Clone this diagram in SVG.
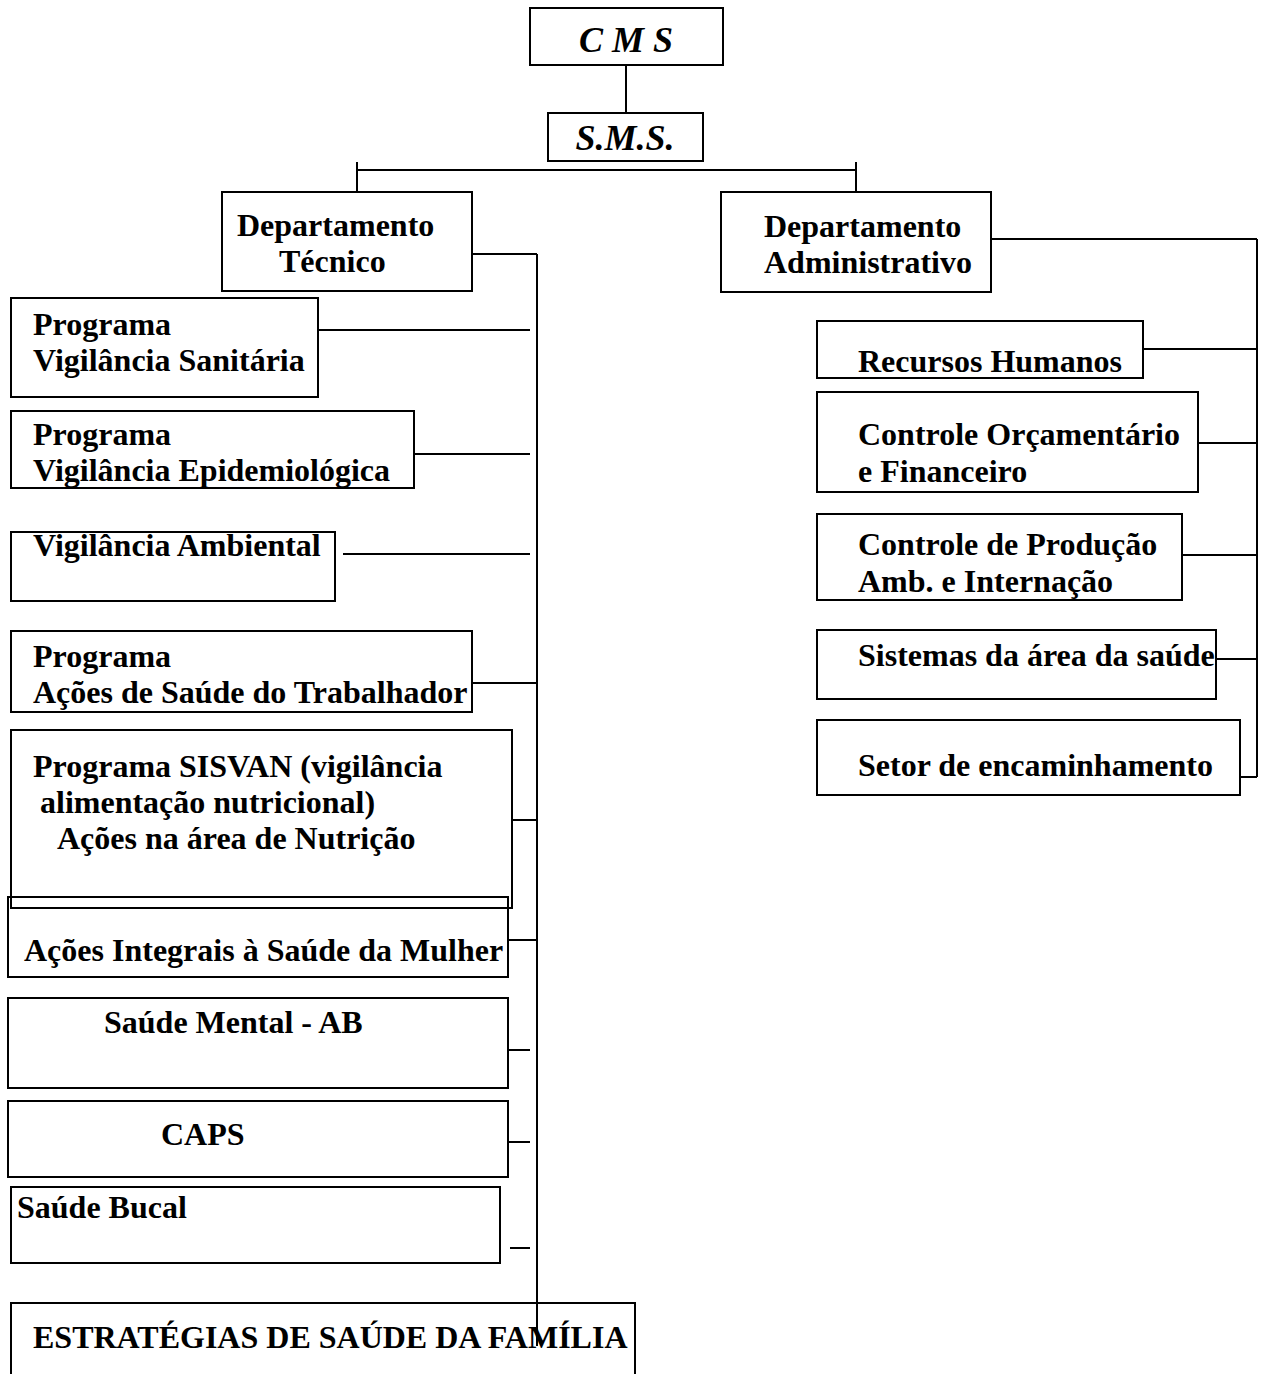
<svg xmlns="http://www.w3.org/2000/svg" width="1267" height="1374" viewBox="0 0 1267 1374">
<style>
rect{fill:none;stroke:#000;stroke-width:2}
text{font-family:"Liberation Serif","Times New Roman",serif;font-weight:bold;font-size:32px;fill:#000}
.it{font-style:italic;font-size:36px}
#connectors line{stroke:#000;stroke-width:2}
</style>
<rect x="0" y="0" width="1267" height="1374" style="stroke:none;fill:#fff"/>
<g id="connectors">
<line x1="626" y1="65" x2="626" y2="113"/>
<line x1="357" y1="170" x2="856" y2="170"/>
<line x1="357" y1="162" x2="357" y2="192"/>
<line x1="856" y1="162" x2="856" y2="192"/>
<line x1="537" y1="254" x2="537" y2="1346"/>
<line x1="472" y1="254" x2="537" y2="254"/>
<line x1="318" y1="330" x2="530" y2="330"/>
<line x1="414" y1="454" x2="530" y2="454"/>
<line x1="343" y1="554" x2="530" y2="554"/>
<line x1="472" y1="683" x2="537" y2="683"/>
<line x1="512" y1="820" x2="537" y2="820"/>
<line x1="508" y1="940" x2="537" y2="940"/>
<line x1="508" y1="1050" x2="530" y2="1050"/>
<line x1="508" y1="1142" x2="530" y2="1142"/>
<line x1="510" y1="1248" x2="530" y2="1248"/>
<line x1="991" y1="239" x2="1257" y2="239"/>
<line x1="1257" y1="239" x2="1257" y2="777"/>
<line x1="1143" y1="349" x2="1257" y2="349"/>
<line x1="1199" y1="443" x2="1257" y2="443"/>
<line x1="1182" y1="555" x2="1257" y2="555"/>
<line x1="1216" y1="659" x2="1257" y2="659"/>
<line x1="1240" y1="777" x2="1257" y2="777"/>
</g>
<g id="cms"><rect x="530" y="8" width="193" height="57"/><text class="it" x="626" y="52" text-anchor="middle">C M S</text></g>
<g id="sms"><rect x="548" y="113" width="155" height="48"/><text class="it" x="625" y="150" text-anchor="middle">S.M.S.</text></g>
<g id="dep-tecnico"><rect x="222" y="192" width="250" height="99"/><text x="237" y="236">Departamento</text><text x="279" y="272">Técnico</text></g>
<g id="dep-adm"><rect x="721" y="192" width="270" height="100"/><text x="764" y="237">Departamento</text><text x="764" y="273">Administrativo</text></g>
<g id="visa"><rect x="11" y="298" width="307" height="99"/><text x="33" y="335">Programa</text><text x="33" y="371">Vigilância Sanitária</text></g>
<g id="vepi"><rect x="11" y="411" width="403" height="77"/><text x="33" y="445">Programa</text><text x="33" y="481">Vigilância Epidemiológica</text></g>
<g id="vamb"><rect x="11" y="532" width="324" height="69"/><text x="33" y="556">Vigilância Ambiental</text></g>
<g id="trab"><rect x="11" y="631" width="461" height="81"/><text x="33" y="667">Programa</text><text x="33" y="703">Ações de Saúde do Trabalhador</text></g>
<g id="sisvan"><rect x="11" y="730" width="501" height="178"/><text x="33" y="777">Programa SISVAN (vigilância</text><text x="40" y="813">alimentação nutricional)</text><text x="57" y="849">Ações na área de Nutrição</text></g>
<g id="mulher"><rect x="8" y="897" width="500" height="80"/><text x="24" y="961">Ações Integrais à Saúde da Mulher</text></g>
<g id="mental"><rect x="8" y="998" width="500" height="90"/><text x="104" y="1033">Saúde Mental - AB</text></g>
<g id="caps"><rect x="8" y="1101" width="500" height="76"/><text x="161" y="1145">CAPS</text></g>
<g id="bucal"><rect x="11" y="1187" width="489" height="76"/><text x="17" y="1218">Saúde Bucal</text></g>
<g id="esf"><rect x="11" y="1303" width="624" height="80"/><text x="33" y="1348">ESTRATÉGIAS DE SAÚDE DA FAMÍLIA</text></g>
<g id="rh"><rect x="817" y="321" width="326" height="57"/><text x="858" y="372">Recursos Humanos</text></g>
<g id="orc"><rect x="817" y="392" width="381" height="100"/><text x="858" y="445">Controle Orçamentário</text><text x="858" y="482">e Financeiro</text></g>
<g id="prod"><rect x="817" y="514" width="365" height="86"/><text x="858" y="555">Controle de Produção</text><text x="858" y="592">Amb. e Internação</text></g>
<g id="sist"><rect x="817" y="630" width="399" height="69"/><text x="858" y="666">Sistemas da área da saúde</text></g>
<g id="setor"><rect x="817" y="720" width="423" height="75"/><text x="858" y="776">Setor de encaminhamento</text></g>
</svg>
